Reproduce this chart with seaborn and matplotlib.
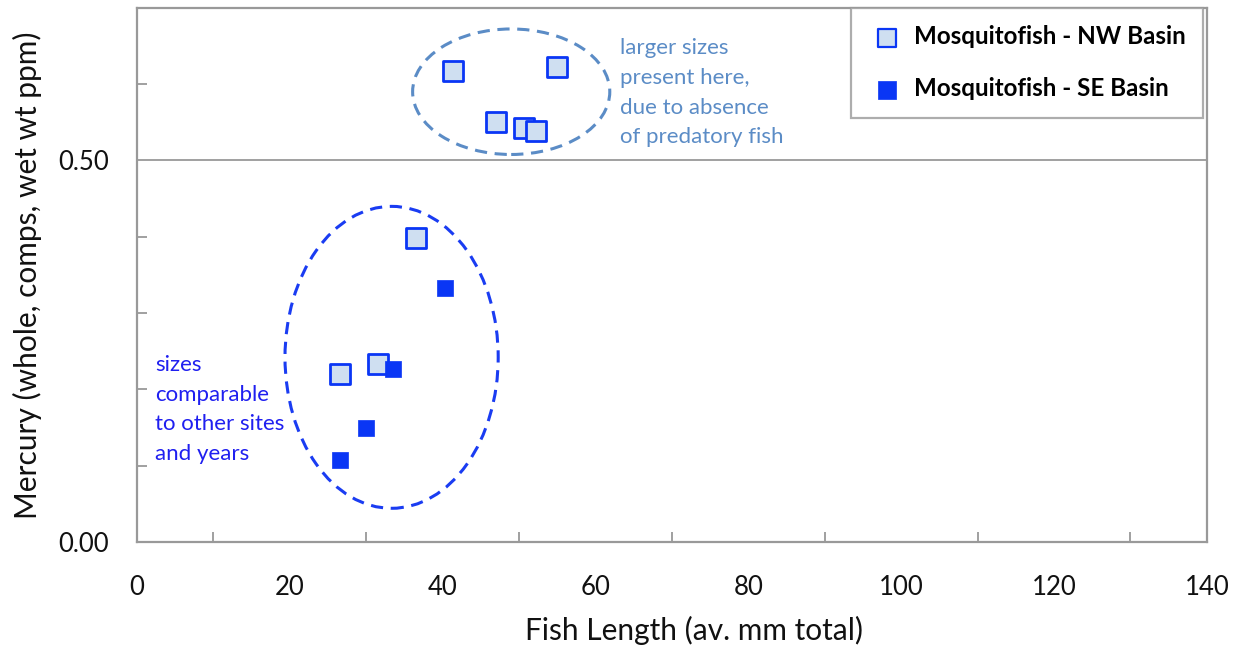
import matplotlib
matplotlib.use("Agg")
import matplotlib.pyplot as plt
from matplotlib.patches import Ellipse
from matplotlib.ticker import MultipleLocator
import seaborn as sns
import pandas as pd

# ---- data ----
nw_length = [41.4, 55.0, 47.0, 50.6, 52.2, 36.5, 26.6, 31.5]
nw_mercury = [0.617, 0.622, 0.550, 0.542, 0.539, 0.398, 0.220, 0.233]
se_length = [40.3, 33.5, 30.0, 26.6]
se_mercury = [0.333, 0.227, 0.149, 0.108]
nw_label = "Mosquitofish - NW Basin"
se_label = "Mosquitofish - SE Basin"
x_ticks = [0, 20, 40, 60, 80, 100, 120, 140]
y_ticks = [0.0, 0.5]
note_top = "larger sizes\npresent here,\ndue to absence\nof predatory fish"
note_bottom = "sizes\ncomparable\nto other sites\nand years"

sns.set_theme(style="white")
plt.rcParams["font.family"] = ["Lato", "DejaVu Sans"]

fig = plt.figure(figsize=(12.34, 6.49), dpi=100)
ax = fig.add_axes([0.111, 0.165, 0.867, 0.823])

nw = pd.DataFrame({"len": nw_length, "hg": nw_mercury})
se = pd.DataFrame({"len": se_length, "hg": se_mercury})

sns.scatterplot(data=nw, x="len", y="hg", marker="s", s=190, color="#cfdff1",
                edgecolor="#0a36f5", linewidth=2.0, ax=ax, label=nw_label, zorder=3)
sns.scatterplot(data=se, x="len", y="hg", marker="s", s=130, color="#0a36f5",
                edgecolor="#0a36f5", linewidth=0.5, ax=ax, label=se_label, zorder=3)

ax.set_xlim(0, 140)
ax.set_ylim(0, 0.70)
ax.set_xticks(x_ticks)
ax.set_xticklabels([str(t) for t in x_ticks])
ax.set_yticks(y_ticks)
ax.set_yticklabels([f"{t:.2f}" for t in y_ticks])
ax.xaxis.set_minor_locator(MultipleLocator(10))
ax.yaxis.set_minor_locator(MultipleLocator(0.1))
ax.tick_params(axis="x", which="major", direction="inout", length=14, width=1.3,
               color="#999999", labelsize=18.5, pad=17, labelcolor="#111111")
ax.tick_params(axis="x", which="minor", direction="in", length=7, width=1.3,
               color="#999999", bottom=True)
ax.tick_params(axis="y", which="major", direction="out", length=7, width=1.3,
               color="#999999", labelsize=18.5, pad=13, labelcolor="#111111")
ax.tick_params(axis="y", which="minor", direction="in", length=7, width=1.3,
               color="#999999", left=True)

ax.axhline(0.5, color="#999999", linewidth=1.3, zorder=1)
for sp in ax.spines.values():
    sp.set_color("#999999")
    sp.set_linewidth(1.6)

ax.set_xlabel("Fish Length (av. mm total)", fontsize=21.5, color="#111111")
ax.xaxis.set_label_coords(0.5206, -0.138)
ax.set_ylabel("Mercury (whole, comps, wet wt ppm)", fontsize=21.5, color="#111111", labelpad=12)

ax.add_patch(Ellipse((48.97, 0.590), 25.8, 0.1645, fill=False, edgecolor="#5b8cc6",
                     linestyle=(0, (4, 2.5)), linewidth=2.2, zorder=2))
ax.add_patch(Ellipse((33.32, 0.2419), 27.9, 0.3957, fill=False, edgecolor="#1a3cf2",
                     linestyle=(0, (4, 2.5)), linewidth=2.2, zorder=2))

ax.text(63.2, 0.66, note_top, color="#5b8cc6", fontsize=16, va="top", ha="left",
        linespacing=1.6)
ax.text(2.4, 0.245, note_bottom, color="#1f1ff0", fontsize=16, va="top", ha="left",
        linespacing=1.6)

leg = ax.legend(loc="upper right", bbox_to_anchor=(0.9965, 1.0), frameon=True, fancybox=False,
                prop={"weight": "bold", "size": 17.4}, labelspacing=1.2,
                borderpad=0.72, handletextpad=0.3, handlelength=1.6, borderaxespad=0.0)
leg.get_frame().set_edgecolor("#999999")
leg.get_frame().set_linewidth(1.6)
handles = leg.legend_handles
handles[0].set_sizes([150])
handles[0].set_linewidth(1.6)
handles[1].set_sizes([150])
for t in leg.get_texts():
    t.set_color("#000000")

fig.savefig("out.png", dpi=100)
